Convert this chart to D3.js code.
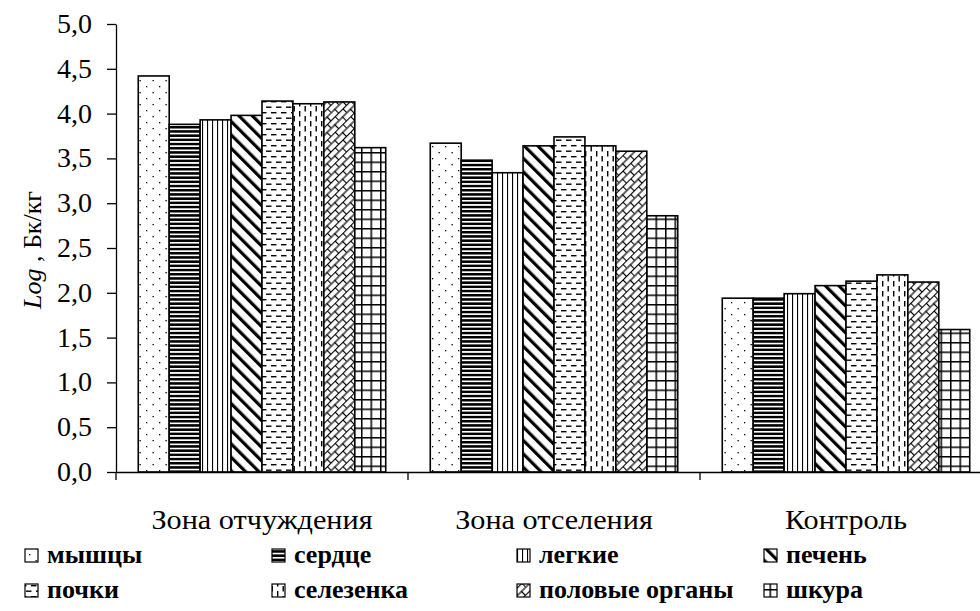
<!DOCTYPE html>
<html>
<head>
<meta charset="utf-8">
<script src="https://cdn.jsdelivr.net/npm/d3@7"></script>
<style>
  html, body { margin: 0; padding: 0; background: #fff; }
  svg { display: block; }
  text { font-family: "Liberation Serif", "Tinos", "Times New Roman", "DejaVu Serif", serif; }
</style>
</head>
<body>
<svg id="chart" width="980" height="611"></svg>
<script>
const categories = ["Зона отчуждения", "Зона отселения", "Контроль"];
const series = ["мышцы", "сердце", "легкие", "печень", "почки", "селезенка", "половые органы", "шкура"];
const valMyshtsy   = [4.42, 3.67, 1.94];
const valSerdtse   = [3.88, 3.48, 1.94];
const valLegkie    = [3.93, 3.34, 1.99];
const valPechen    = [3.98, 3.64, 2.08];
const valPochki    = [4.14, 3.74, 2.13];
const valSelezenka = [4.11, 3.64, 2.20];
const valPolovye   = [4.13, 3.58, 2.12];
const valShkura    = [3.62, 2.86, 1.59];
const yTicks = [0, 0.5, 1, 1.5, 2, 2.5, 3, 3.5, 4, 4.5, 5];

const values = [valMyshtsy, valSerdtse, valLegkie, valPechen, valPochki, valSelezenka, valPolovye, valShkura];

const svg = d3.select("#chart");
const font = "Liberation Serif, Tinos, Times New Roman, DejaVu Serif, serif";
const mLeft = 116, mRight = 992, mTop = 24, mBottom = 472;

// patterns
const defs = svg.append("defs");
function pat(id, w, h, draw) {
  const p = defs.append("pattern").attr("id", id).attr("patternUnits", "userSpaceOnUse")
    .attr("width", w).attr("height", h);
  p.append("rect").attr("width", w).attr("height", h).attr("fill", "#fff");
  draw(p);
  return p;
}
pat("p0", 13, 12, p => {
  p.append("rect").attr("x", 3).attr("y", 2).attr("width", 1.3).attr("height", 1.3).attr("fill", "#000");
  p.append("rect").attr("x", 9.5).attr("y", 8).attr("width", 1.3).attr("height", 1.3).attr("fill", "#000");
});
pat("p1", 8, 4.2, p => {
  p.append("rect").attr("x", 0).attr("y", 0).attr("width", 8).attr("height", 2.5).attr("fill", "#000");
});
pat("p2", 5, 8, p => {
  p.append("rect").attr("x", 2).attr("y", 0).attr("width", 1.1).attr("height", 8).attr("fill", "#000");
});
pat("p3", 9.5, 10, p => {
  p.attr("patternTransform", "rotate(-45)");
  p.append("rect").attr("x", 0).attr("y", 0).attr("width", 3.2).attr("height", 10).attr("fill", "#000");
});
pat("p4", 10, 11, p => {
  p.append("rect").attr("x", 1).attr("y", 2).attr("width", 5.5).attr("height", 1.4).attr("fill", "#000");
  p.append("rect").attr("x", 6).attr("y", 7.5).attr("width", 5.5).attr("height", 1.4).attr("fill", "#000");
  p.append("rect").attr("x", -4).attr("y", 7.5).attr("width", 5.5).attr("height", 1.4).attr("fill", "#000");
});
pat("p5", 11, 10, p => {
  p.append("rect").attr("x", 2).attr("y", 1).attr("width", 1.4).attr("height", 5.5).attr("fill", "#000");
  p.append("rect").attr("x", 7.5).attr("y", 6).attr("width", 1.4).attr("height", 5.5).attr("fill", "#000");
  p.append("rect").attr("x", 7.5).attr("y", -4).attr("width", 1.4).attr("height", 5.5).attr("fill", "#000");
});
pat("p6", 11, 11, p => {
  p.attr("patternTransform", "rotate(-45)");
  p.append("line").attr("x1", 0).attr("y1", 0.5).attr("x2", 11).attr("y2", 0.5).attr("stroke", "#000").attr("stroke-width", 1.2);
  p.append("line").attr("x1", 0.5).attr("y1", 0).attr("x2", 0.5).attr("y2", 5.5).attr("stroke", "#000").attr("stroke-width", 1.2);
  p.append("line").attr("x1", 5.5).attr("y1", 5.5).attr("x2", 5.5).attr("y2", 11).attr("stroke", "#000").attr("stroke-width", 1.2);
  p.append("line").attr("x1", 0).attr("y1", 6).attr("x2", 11).attr("y2", 6).attr("stroke", "#000").attr("stroke-width", 1.2);
});
pat("p7", 9.5, 9.5, p => {
  p.append("rect").attr("x", 0).attr("y", 0).attr("width", 1.5).attr("height", 9.5).attr("fill", "#000");
  p.append("rect").attr("x", 0).attr("y", 0).attr("width", 9.5).attr("height", 1.5).attr("fill", "#000");
});

const x0 = d3.scaleBand().domain(categories).range([mLeft, mRight]).paddingInner(0).paddingOuter(0);
const x1 = d3.scaleBand().domain(series).range([0, x0.bandwidth()]).paddingOuter(0.72).paddingInner(0);
const y = d3.scaleLinear().domain([0, 5]).range([mBottom, mTop]);

// bars
const g = svg.append("g");
categories.forEach((c, ci) => {
  series.forEach((s, si) => {
    const v = values[si][ci];
    g.append("rect")
      .attr("x", x0(c) + x1(s))
      .attr("y", y(v))
      .attr("width", x1.bandwidth())
      .attr("height", y(0) - y(v))
      .attr("fill", `url(#p${si})`)
      .attr("stroke", "#000")
      .attr("stroke-width", 1.6);
  });
});

// y axis
const yAxis = d3.axisLeft(y).tickValues(yTicks).tickSize(9).tickSizeOuter(0)
  .tickFormat(d => d3.format(".1f")(d).replace(".", ","));
const ya = svg.append("g").attr("transform", `translate(${mLeft},0)`).call(yAxis);
ya.attr("font-family", font).attr("font-size", 28);
ya.selectAll("path, line").attr("stroke", "#000").attr("stroke-width", 1.3);
ya.selectAll("text").style("font-family", font).attr("font-size", 28).attr("fill", "#000").attr("x", -24).attr("dy", "0.3em");

// x axis
const xAxis = d3.axisBottom(x0).tickSize(0).tickSizeOuter(0).tickFormat("");
const xa = svg.append("g").attr("transform", `translate(0,${mBottom})`).call(xAxis);
xa.select("path").attr("stroke", "#000").attr("stroke-width", 1.3);
xa.selectAll(".sep").data(categories.slice(1)).enter().append("line")
  .attr("x1", d => x0(d)).attr("x2", d => x0(d)).attr("y1", 0).attr("y2", 8)
  .attr("stroke", "#000").attr("stroke-width", 1.3);
xa.append("line").attr("x1", mLeft).attr("x2", mLeft).attr("y1", 0).attr("y2", 8).attr("stroke", "#000").attr("stroke-width", 1.3);

// category labels
svg.append("g").selectAll("text").data(categories).enter().append("text")
  .attr("transform", d => `translate(${x0(d) + x0.bandwidth() / 2},529) scale(1.08,1)`)
  .attr("text-anchor", "middle")
  .style("font-family", font).attr("font-size", 28)
  .text(d => d);

// y label
const yl = svg.append("text")
  .attr("transform", "translate(41,250) rotate(-90)")
  .attr("text-anchor", "middle")
  .style("font-family", font).attr("font-size", 26);
yl.append("tspan").attr("font-style", "italic").text("Log");
yl.append("tspan").text(" , Бк/кг");

// legend
const legX = [25, 272, 517, 764];
const legY = [563, 598];
series.forEach((s, i) => {
  const col = i % 4, row = Math.floor(i / 4);
  const gx = legX[col], gy = legY[row];
  svg.append("rect").attr("x", gx).attr("y", gy - 14).attr("width", 13).attr("height", 13)
    .attr("fill", `url(#p${i})`).attr("stroke", "#000").attr("stroke-width", 1.2);
  svg.append("text").attr("x", gx + 22).attr("y", gy)
    .style("font-family", font).attr("font-size", 26).attr("font-weight", "bold")
    .text(s);
});
</script>
</body>
</html>
